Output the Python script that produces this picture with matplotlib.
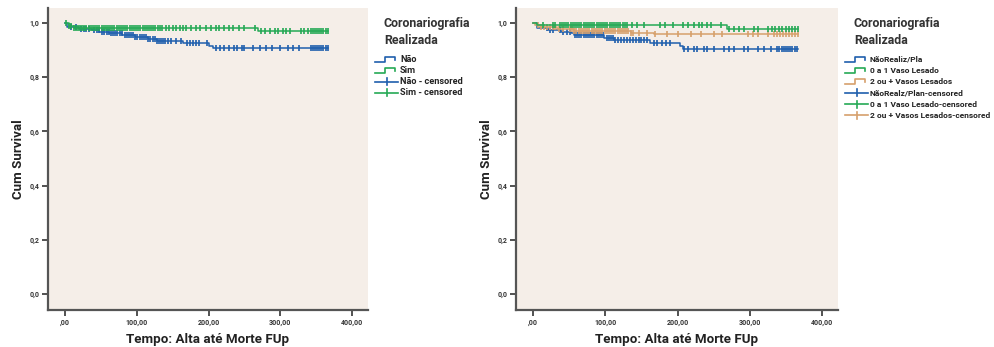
import numpy as np
import matplotlib
matplotlib.use("Agg")
import matplotlib.pyplot as plt
from matplotlib.lines import Line2D

plt.rcParams["font.family"] = ["Roboto", "DejaVu Sans"]

BG = "#f5eee8"
BLUE = "#1f5fad"
GREEN = "#25a955"
ORANGE = "#d6a06c"

x_ticks = [0, 100, 200, 300, 400]
x_labels = [",00", "100,00", "200,00", "300,00", "400,00"]
y_ticks = [0.0, 0.2, 0.4, 0.6, 0.8, 1.0]
y_labels = ["0,0", "0,2", "0,4", "0,6", "0,8", "1,0"]

# ---- left panel: Coronariografia realizada (Não / Sim)
nao_t = [0, 3, 20, 38, 48, 62, 80, 98, 115, 128, 165, 201, 206, 366]
nao_s = [1.0, 0.986, 0.978, 0.973, 0.966, 0.961, 0.956, 0.949, 0.942, 0.935, 0.926, 0.914, 0.908, 0.908]
nao_cens = [8, 15, 22, 26, 30, 33, 40, 44, 47, 52, 55, 58, 61, 64, 67, 70, 73, 76, 79,
            83, 86, 89, 92, 95, 98, 101, 104, 107, 110, 113, 116, 119, 122, 125, 128,
            131, 134, 137, 140, 143, 148, 155, 162, 170, 174, 178, 182, 186, 198,
            211, 216, 222, 229, 236, 240, 246, 250, 262, 271, 280, 289, 299, 310,
            317, 326, 342, 345, 348, 351, 354, 357, 360, 363, 366]

sim_t = [0, 5, 12, 269, 366]
sim_s = [1.0, 0.99, 0.982, 0.969, 0.969]
sim_cens = [2, 6, 9, 12, 15, 18, 21, 24, 27, 30, 33, 36, 39, 42, 45, 48, 51, 54, 57,
            60, 63, 66, 69, 72, 75, 78, 81, 84, 87, 90, 93, 96, 99, 102, 105, 108,
            111, 114, 117, 120, 123, 126, 129, 132, 135, 141, 145, 150, 155, 160,
            165, 169, 176, 183, 188, 197, 204, 211, 215, 222, 229, 234, 243, 250,
            264, 273, 278, 285, 292, 296, 303, 308, 313, 329, 333, 338, 342, 345,
            348, 351, 354, 357, 360, 363, 366]

# ---- right panel: NãoRealiz/Plan, 0 a 1 Vaso, 2 ou + Vasos
nr_t = [0, 6, 20, 38, 52, 56, 98, 112, 162, 204, 207, 366]
nr_s = [1.0, 0.981, 0.975, 0.968, 0.961, 0.954, 0.944, 0.936, 0.926, 0.914, 0.904, 0.904]
nr_cens = [19, 24, 28, 37, 42, 47, 51, 58, 61, 64, 67, 70, 73, 76, 79, 82, 85, 88, 91,
           94, 97, 102, 105, 108, 111, 114, 118, 122, 126, 130, 134, 138, 142, 146,
           150, 154, 158, 167, 172, 178, 184, 190, 209, 214, 223, 227, 237, 241, 250,
           264, 271, 278, 292, 297, 311, 320, 329, 338, 341, 344, 347, 350, 353,
           356, 359, 362, 365]

v01_t = [0, 5, 269, 366]
v01_s = [1.0, 0.991, 0.979, 0.979]
v01_cens = [14, 28, 31, 37, 40, 43, 46, 49, 52, 55, 58, 61, 64, 67, 70, 73, 76, 79, 82,
            85, 88, 91, 94, 97, 100, 103, 106, 109, 112, 115, 118, 121, 124, 127, 130,
            137, 144, 153, 176, 183, 193, 207, 214, 223, 230, 234, 241, 246, 260,
            271, 278, 285, 292, 306, 311, 325, 330, 335, 340, 345, 350, 354, 358,
            362, 366]

v2_t = [0, 3, 10, 33, 56, 135, 167, 366]
v2_s = [1.0, 0.994, 0.984, 0.976, 0.969, 0.963, 0.959, 0.959]
v2_cens = [7, 11, 15, 19, 23, 27, 31, 36, 42, 51, 54, 57, 60, 63, 66, 69, 72, 75, 78,
           81, 84, 87, 90, 93, 96, 99, 102, 105, 108, 111, 114, 117, 120, 123, 126,
           129, 132, 135, 139, 146, 158, 169, 186, 200, 218, 232, 251, 262, 297,
           304, 311, 325, 334, 338, 342, 346, 350, 354, 358, 362, 366]


def surv_at(times, surv, t):
    idx = np.searchsorted(times, t, side="right") - 1
    return np.asarray(surv)[idx]


def km_plot(ax, times, surv, cens, color):
    ax.step(times, surv, where="post", color=color, lw=1.1)
    cy = surv_at(times, surv, cens)
    ax.plot(cens, cy, ls="none", marker="|", ms=4, mew=1.2, color=color)


def style_axes(ax):
    ax.set_facecolor(BG)
    ax.set_xlim(-23.6, 422)
    ax.set_ylim(-0.059, 1.055)
    for s in ["top", "right"]:
        ax.spines[s].set_visible(False)
    for s in ["left", "bottom"]:
        ax.spines[s].set_color("#555555")
        ax.spines[s].set_linewidth(1.6)
    ax.set_xticks(x_ticks)
    ax.set_xticklabels(x_labels)
    ax.set_yticks(y_ticks)
    ax.set_yticklabels(y_labels)
    ax.tick_params(axis="both", length=4, width=1.2, color="#333333",
                   labelsize=5, labelcolor="#333333", pad=2)
    for lab in ax.get_xticklabels() + ax.get_yticklabels():
        lab.set_fontweight("bold")
    ax.set_xlabel("Tempo: Alta até Morte FUp", fontsize=9.6, fontweight="bold",
                  color="#222222", labelpad=5)
    ax.set_ylabel("Cum Survival", fontsize=9.6, fontweight="bold",
                  color="#222222", labelpad=3)


def add_legend(fig, x0, entries, size):
    W, H = 994, 347
    fig.text(x0 / W, 1 - 32 / H, "Coronariografia\nRealizada", fontsize=8.9,
             fontweight="bold", color="#333333", va="center", ha="left",
             linespacing=1.5)
    sx0 = x0 - 9
    for i, (label, color, kind) in enumerate(entries):
        y = 59 + i * 11.3
        if kind == "step":
            xs = np.array([0, 10, 10, 20, 20]) + sx0
            ys = np.array([2.5, 2.5, -2.5, -2.5, 0.5]) + y
        else:
            xs = np.array([0, 23]) + sx0
            ys = np.array([y, y])
        fig.add_artist(Line2D(xs / W, 1 - ys / H, color=color, lw=1.2))
        if kind == "cens":
            fig.add_artist(Line2D([(sx0 + 11.5) / W] * 2,
                                  [1 - (y - 3.5) / H, 1 - (y + 3.5) / H],
                                  color=color, lw=1.2))
        fig.text((sx0 + 25) / W, 1 - y / H, label, fontsize=size,
                 fontweight="bold", color="#222222", va="center", ha="left")


fig = plt.figure(figsize=(9.94, 3.47), dpi=100)
ax1 = fig.add_axes([48 / 994, 37 / 347, 320 / 994, 302 / 347])
ax2 = fig.add_axes([516 / 994, 37 / 347, 322 / 994, 302 / 347])

style_axes(ax1)
km_plot(ax1, nao_t, nao_s, nao_cens, BLUE)
km_plot(ax1, sim_t, sim_s, sim_cens, GREEN)

style_axes(ax2)
km_plot(ax2, nr_t, nr_s, nr_cens, BLUE)
km_plot(ax2, v2_t, v2_s, v2_cens, ORANGE)
km_plot(ax2, v01_t, v01_s, v01_cens, GREEN)

add_legend(fig, 384, [("Não", BLUE, "step"), ("Sim", GREEN, "step"),
                      ("Não - censored", BLUE, "cens"),
                      ("Sim - censored", GREEN, "cens")], 6.6)
add_legend(fig, 854, [("NãoRealiz/Pla", BLUE, "step"),
                      ("0 a 1 Vaso Lesado", GREEN, "step"),
                      ("2 ou + Vasos Lesados", ORANGE, "step"),
                      ("NãoRealz/Plan-censored", BLUE, "cens"),
                      ("0 a 1 Vaso Lesado-censored", GREEN, "cens"),
                      ("2 ou + Vasos Lesados-censored", ORANGE, "cens")], 6.0)

fig.savefig("out.png", dpi=100, facecolor="white")
